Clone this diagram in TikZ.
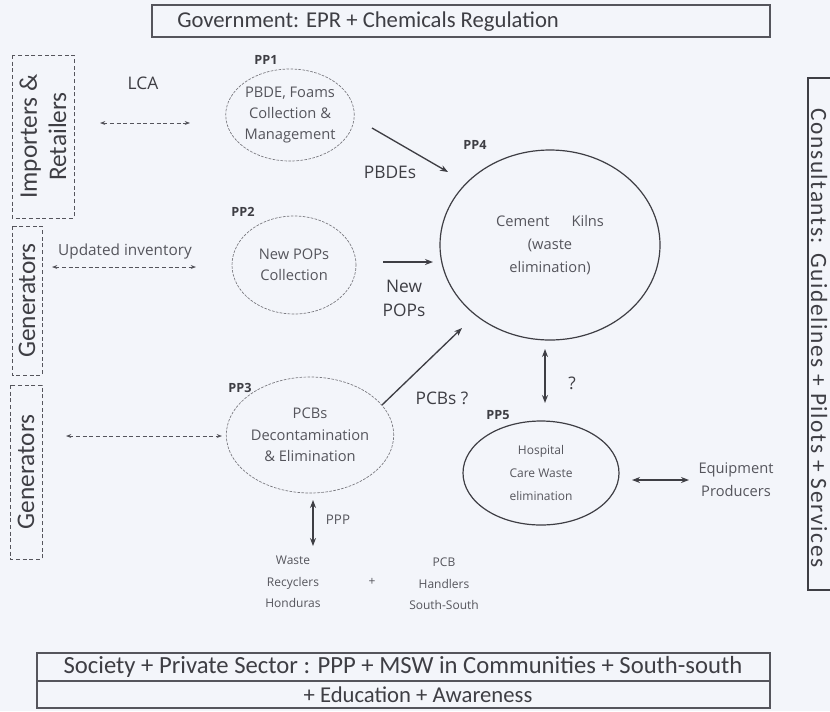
\documentclass[tikz,border=0pt]{standalone}
\usepackage{fontspec}
\setmainfont{Carlito}
\newfontfamily\smallf{Open Sans}
\newfontfamily\spacedf[LetterSpace=7]{Carlito}
\usetikzlibrary{arrows.meta,shapes.geometric}
\definecolor{bg}{RGB}{243,245,250}
\definecolor{ink}{RGB}{62,62,68}
\definecolor{link}{RGB}{85,85,92}
\def\px{0.75pt}
\tikzset{
  banner/.style={font=\fontsize{17pt}{20pt}\selectfont, text=ink, inner sep=0pt},
  sidebox/.style={draw=link, densely dashed, line width=0.6pt, font=\fontsize{19pt}{22pt}\selectfont, text=ink, align=center, inner sep=0pt},
  sidetext/.style={font=\spacedf\fontsize{17.5pt}{20pt}\selectfont, text=ink, inner sep=0pt},
  ppcirc/.style={ellipse, draw=link!80, dash pattern=on 2pt off 1pt, line width=0.5pt, align=center, text=link, font=\smallf\fontsize{11pt}{16pt}\selectfont, inner sep=0pt},
  bigcirc/.style={ellipse, draw=ink, line width=0.9pt, align=center, text=link, font=\smallf\fontsize{11pt}{17pt}\selectfont, inner sep=0pt},
  pplabel/.style={font=\smallf\bfseries\fontsize{9.5pt}{11pt}\selectfont, text=ink, inner sep=0pt},
  lbl/.style={font=\smallf\fontsize{13pt}{18pt}\selectfont, text=ink, align=center, inner sep=0pt},
  slbl/.style={font=\smallf\fontsize{11.5pt}{13pt}\selectfont, text=link, align=center, inner sep=0pt},
  tiny/.style={font=\smallf\fontsize{9pt}{16pt}\selectfont, text=link, align=center, inner sep=0pt},
  dimarrow/.style={{Stealth[length=4pt,width=3pt]}-{Stealth[length=4pt,width=3pt]}, draw=link, densely dashed, line width=0.6pt},
  solarrow/.style={-{Stealth[length=6pt,width=4.5pt]}, draw=ink, line width=1pt},
  dblarrow/.style={{Stealth[length=6pt,width=4.5pt]}-{Stealth[length=6pt,width=4.5pt]}, draw=ink, line width=1pt}
}
\begin{document}
\begin{tikzpicture}[x=0.75pt,y=-0.75pt]
\useasboundingbox[fill=bg] (0,0) rectangle (830,711);

% top banner
\draw[draw=link, line width=1pt] (152,5) rectangle (770,37);
\node[banner, anchor=west] (gov) at (177,22) {Government: EPR + Chemicals Regulation};

% left boxes
\node[sidebox, rotate=90, minimum width=163*\px, minimum height=62*\px] (imp) at (43,136.5) {Importers \&\\Retailers};
\node[sidebox, rotate=90, minimum width=149*\px, minimum height=30*\px] (gen1) at (27,300.5) {Generators};
\node[sidebox, rotate=90, minimum width=174*\px, minimum height=32*\px] (gen2) at (26,472) {Generators};

% right box
\draw[draw=ink, line width=1pt] (845,78) -| (808,590) -- (845,590);
\node[sidetext, rotate=-90] (cons) at (819,338) {Consultants: Guidelines + Pilots + Services};

% bottom box
\draw[draw=link, line width=1pt] (37,653) rectangle (770,708);
\draw[draw=link, line width=1pt] (37,681) -- (770,681);
\node[banner, font=\fontsize{18.5pt}{20pt}\selectfont] (soc) at (403,667) {Society + Private Sector : PPP + MSW in Communities + South-south};
\node[banner] (edu) at (418,695) {+ Education + Awareness};

% circles
\node[ppcirc, minimum width=120*\px, minimum height=92*\px] (pp1) at (290,115) {PBDE, Foams\\Collection \&\\Management};
\node[ppcirc, minimum width=124*\px, minimum height=98*\px] (pp2) at (294,265) {New POPs\\Collection};
\node[ppcirc, minimum width=128*\px, minimum height=116*\px] (pp3) at (310,435) {PCBs\\Decontamination\\\& Elimination};
\node[bigcirc, minimum width=220*\px, minimum height=190*\px] (pp4) at (550,245) {Cement\hspace{1.5em}Kilns\\(waste\\elimination)};
\node[bigcirc, minimum width=156*\px, minimum height=104*\px, font=\smallf\fontsize{9pt}{17pt}\selectfont] (pp5) at (541,473) {Hospital\\Care Waste\\elimination};

% PP labels
\node[pplabel] (l1) at (266,60) {PP1};
\node[pplabel] (l2) at (243,212) {PP2};
\node[pplabel] (l3) at (240,388) {PP3};
\node[pplabel] (l4) at (475,145) {PP4};
\node[pplabel] (l5) at (498,415) {PP5};

% left connectors
\node[lbl, font=\smallf\fontsize{13pt}{15pt}\selectfont] (lca) at (143,83) {LCA};
\coordinate (lcaA) at (100,123);
\coordinate (lcaB) at (190,123);
\draw[dimarrow] (lcaA) -- (lcaB);

\node[slbl] (upd) at (125,252) {Updated inventory};
\coordinate (updA) at (52,267);
\coordinate (updB) at (196,267);
\draw[dimarrow] (updA) -- (updB);

\coordinate (p3A) at (66,436);
\coordinate (p3B) at (222,436);
\draw[dimarrow] (p3A) -- (p3B);

% PBDEs
\coordinate (pbA) at (372,128);
\coordinate (pbB) at (448,172);
\draw[solarrow] (pbA) -- (pbB);
\node[lbl] (pbdes) at (390,172) {PBDEs};

% New POPs
\coordinate (npA) at (383,262);
\coordinate (npB) at (433,262);
\draw[solarrow] (npA) -- (npB);
\node[lbl] (newpops) at (404,298) {New\\POPs};

% PCBs ?
\coordinate (pcA) at (382,405);
\coordinate (pcB) at (462,328);
\draw[solarrow] (pcA) -- (pcB);
\node[lbl] (pcbs) at (442,398) {PCBs ?};

% ? between PP4 and PP5
\coordinate (qA) at (545,349);
\coordinate (qB) at (545,403);
\draw[dblarrow] (qA) -- (qB);
\node[lbl] (q) at (572,383) {?};

% Equipment producers
\node[slbl, font=\smallf\fontsize{11pt}{17pt}\selectfont] (equip) at (736,480) {Equipment\\Producers};
\coordinate (eqA) at (632,480);
\coordinate (eqB) at (689,480);
\draw[dblarrow] (eqA) -- (eqB);

% PPP
\coordinate (ppA) at (313,500);
\coordinate (ppB) at (313,546);
\draw[dblarrow, line width=0.8pt] (ppA) -- (ppB);
\node[tiny, font=\smallf\fontsize{10pt}{12pt}\selectfont] (ppp) at (338,520) {PPP};

\node[tiny] (waste) at (293,582) {Waste\\Recyclers\\Honduras};
\node[tiny] (plus) at (372,582) {+};
\node[tiny] (pcbh) at (444,584) {PCB\\Handlers\\South-South};
\end{tikzpicture}
\end{document}
